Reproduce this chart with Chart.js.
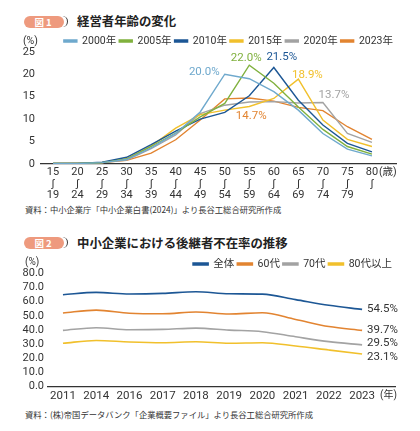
<!DOCTYPE html>
<html lang="ja">
<head>
<meta charset="utf-8">
<script src="https://cdn.jsdelivr.net/npm/chart.js@4.4.1/dist/chart.umd.min.js"></script>
<style>
  html, body { margin: 0; padding: 0; background: #fff; }
  body { width: 420px; height: 431px; position: relative; overflow: hidden;
         font-family: Roboto, 'Noto Sans CJK JP', sans-serif; color: #222; }
  .badge { position: absolute; left: 24px; width: 40px; height: 12px; border-radius: 7px;
           background: #ee9a7e; color: #fff; font: bold 9.5px 'Noto Sans CJK JP', sans-serif;
           line-height: 12px; text-align: center; letter-spacing: 2px; }
  .badge::after { content: ''; position: absolute; right: -4px; top: 0; width: 8px; height: 11px;
           border-right: 1.5px solid #333; border-radius: 0 7px 7px 0; }
  .title { position: absolute; left: 77px; font: bold 12.4px 'Noto Sans CJK JP', sans-serif;
           line-height: 16px; color: #222; white-space: nowrap; }
  .wrap { position: absolute; left: 0; width: 420px; }
  .src { position: absolute; left: 25px; font: 8.3px 'Noto Sans CJK JP', sans-serif;
         line-height: 10px; color: #333; white-space: nowrap; }
</style>
</head>
<body>
<div class="badge" style="top:16px">図1</div>
<div class="title" style="top:13px">経営者年齢の変化</div>
<div class="wrap" style="top:31px;height:170px"><canvas id="ageChart"></canvas></div>
<div class="src" style="top:204px">資料：中小企業庁「中小企業白書(2024)」より長谷工総合研究所作成</div>

<div class="badge" style="top:237px">図2</div>
<div class="title" style="top:235px">中小企業における後継者不在率の推移</div>
<div class="wrap" style="top:254px;height:150px"><canvas id="successorChart"></canvas></div>
<div class="src" style="top:409px">資料：(株)帝国データバンク「企業概要ファイル」より長谷工総合研究所作成</div>

<script>
const FONT = "Roboto, 'Noto Sans CJK JP', sans-serif";
Chart.defaults.font.family = FONT;
Chart.defaults.color = '#333';

// 図1 経営者年齢の分布 (%)
const ageFrom = ['15', '20', '25', '30', '35', '40', '45', '50', '55', '60', '65', '70', '75', '80'];
const ageTo   = ['19', '24', '29', '34', '39', '44', '49', '54', '59', '64', '69', '74', '79', ''];
const surveyYears = ['2000年', '2005年', '2010年', '2015年', '2020年', '2023年'];
const age2000 = [0.1, 0.1, 0.3, 1.0, 3.6, 6.8, 11.6, 20.0, 19.0, 16.1, 12.0, 6.8, 3.3, 1.8];
const age2005 = [0.1, 0.1, 0.3, 1.1, 3.9, 6.9, 10.5, 13.5, 22.0, 18.0, 12.7, 7.7, 3.9, 2.2];
const age2010 = [0.1, 0.1, 0.4, 1.5, 4.3, 7.3, 10.0, 11.5, 15.2, 21.5, 14.2, 8.7, 4.6, 2.7];
const age2015 = [0.1, 0.1, 0.3, 1.2, 4.0, 8.0, 11.0, 12.0, 12.8, 14.6, 18.9, 9.8, 5.5, 3.9];
const age2020 = [0.1, 0.1, 0.3, 0.9, 3.4, 6.5, 11.2, 13.1, 13.8, 13.9, 13.6, 13.7, 6.8, 4.8];
const age2023 = [0.1, 0.2, 0.3, 0.8, 2.4, 5.4, 9.8, 14.5, 14.7, 14.0, 12.6, 11.9, 8.3, 5.5];
const ageTicks = [0, 5, 10, 15, 20, 25];

// 図2 後継者不在率 (%)
const fiscalYears = ['2011', '2014', '2016', '2017', '2018', '2019', '2020', '2021', '2022', '2023'];
const groups = ['全体', '60代', '70代', '80代以上'];
const rateAll = [64.8, 66.5, 65.4, 65.8, 67.0, 65.5, 65.3, 61.4, 57.4, 54.5];
const rate60s = [52.0, 54.0, 51.8, 51.4, 52.7, 51.3, 52.1, 47.4, 42.4, 39.7];
const rate70s = [39.7, 41.6, 40.2, 40.4, 41.3, 39.9, 38.8, 35.2, 31.8, 29.5];
const rate80s = [30.6, 32.6, 31.5, 31.0, 31.7, 30.6, 31.0, 28.7, 25.9, 23.1];
const rateTicks = [0, 10, 20, 30, 40, 50, 60, 70, 80];

const toPoints = arr => arr.map((v, i) => ({x: i, y: v}));

// extra texts: unit labels and value callouts
const notesPlugin = {
  id: 'notes',
  afterDraw(chart, args, opts) {
    const {ctx} = chart;
    const x = chart.scales.x, y = chart.scales.y;
    ctx.save();
    ctx.textBaseline = 'middle';
    ctx.font = opts.font;
    (opts.points || []).forEach(p => {
      const ds = chart.data.datasets[p.ds];
      const v = ds.data[p.i].y;
      ctx.fillStyle = p.color || ds.borderColor;
      ctx.textAlign = p.align || 'center';
      ctx.fillText(v.toFixed(1) + '%', x.getPixelForValue(p.i) + p.dx, y.getPixelForValue(v) + p.dy);
    });
    ctx.fillStyle = '#333';
    ctx.textAlign = 'left';
    ctx.font = opts.unitFont;
    ctx.fillText('(%)', opts.pctX, chart.legend.top + opts.pctDy);
    const last = x.ticks[x.ticks.length - 1].value;
    ctx.fillText(opts.xUnit, x.getPixelForValue(last) + opts.xUnitDx, x.top + opts.xUnitDy);
    ctx.restore();
  }
};

new Chart(document.getElementById('ageChart'), {
  type: 'line',
  data: {
    datasets: [
      {label: surveyYears[0], data: toPoints(age2000), borderColor: '#6fa9cd'},
      {label: surveyYears[1], data: toPoints(age2005), borderColor: '#80b13e'},
      {label: surveyYears[2], data: toPoints(age2010), borderColor: '#1d5795'},
      {label: surveyYears[3], data: toPoints(age2015), borderColor: '#f1c02c'},
      {label: surveyYears[4], data: toPoints(age2020), borderColor: '#a3a3a3'},
      {label: surveyYears[5], data: toPoints(age2023), borderColor: '#e28431'}
    ].map(d => Object.assign(d, {backgroundColor: d.borderColor, borderWidth: 1.4, pointRadius: 0, tension: 0}))
  },
  options: {
    responsive: true,
    maintainAspectRatio: false,
    animation: false,
    events: [],
    layout: {padding: {top: 1.75, right: 24, left: 0, bottom: 0}},
    plugins: {
      tooltip: {enabled: false},
      legend: {
        align: 'end',
        maxHeight: 19,
        labels: {boxWidth: 13, boxHeight: 2, padding: 3, color: '#333', font: {size: 10.5}}
      },
      notes: {
        font: '11.5px ' + FONT,
        unitFont: '10.5px ' + FONT,
        pctX: 23, pctDy: 8.25,
        xUnit: '(歳)', xUnitDx: 7, xUnitDy: 8,
        points: [
          {ds: 0, i: 7, dx: -5, dy: -2, align: 'right'},
          {ds: 1, i: 8, dx: -3, dy: -7},
          {ds: 2, i: 9, dx: 8, dy: -10},
          {ds: 3, i: 10, dx: 9, dy: -4},
          {ds: 4, i: 11, dx: 11, dy: -7.5},
          {ds: 5, i: 8, dx: 2, dy: 18}
        ]
      }
    },
    scales: {
      x: {
        type: 'linear', min: -0.49, max: 13.98,
        grid: {display: false, drawTicks: false},
        border: {display: true, color: '#333', width: 1.2},
        afterBuildTicks: s => { s.ticks = ageFrom.map((_, i) => ({value: i})); },
        afterFit: s => { s.height = 37; },
        ticks: {
          autoSkip: false, maxRotation: 0, padding: 2.5, color: '#333',
          font: {size: 11, lineHeight: 1.05},
          callback: v => [ageFrom[v], 'ʃ', ageTo[v]]
        }
      },
      y: {
        min: 0, max: 25,
        grid: {display: false, drawTicks: false},
        border: {display: false},
        afterBuildTicks: s => { s.ticks = ageTicks.map(v => ({value: v})); },
        afterFit: s => { s.width = 41; },
        ticks: {autoSkip: false, padding: 6, color: '#333', font: {size: 11}}
      }
    }
  },
  plugins: [notesPlugin]
});

new Chart(document.getElementById('successorChart'), {
  type: 'line',
  data: {
    datasets: [
      {label: groups[0], data: toPoints(rateAll), borderColor: '#1d5795'},
      {label: groups[1], data: toPoints(rate60s), borderColor: '#e28431'},
      {label: groups[2], data: toPoints(rate70s), borderColor: '#a3a3a3'},
      {label: groups[3], data: toPoints(rate80s), borderColor: '#f1c02c'}
    ].map(d => Object.assign(d, {backgroundColor: d.borderColor, borderWidth: 1.6, pointRadius: 0, cubicInterpolationMode: 'monotone'}))
  },
  options: {
    responsive: true,
    maintainAspectRatio: false,
    animation: false,
    events: [],
    layout: {padding: {top: 1.75, right: 25, left: 0, bottom: 0}},
    plugins: {
      tooltip: {enabled: false},
      legend: {
        align: 'end',
        maxHeight: 17.5,
        labels: {boxWidth: 15, boxHeight: 2, padding: 3, color: '#333', font: {size: 10.5}}
      },
      notes: {
        font: '11.5px ' + FONT,
        unitFont: '10px ' + FONT,
        pctX: 25, pctDy: 7,
        xUnit: '(年)', xUnitDx: 18, xUnitDy: 9,
        points: [
          {ds: 0, i: 9, dx: 5, dy: 0, align: 'left', color: '#333'},
          {ds: 1, i: 9, dx: 5, dy: 0, align: 'left', color: '#333'},
          {ds: 2, i: 9, dx: 5, dy: -2, align: 'left', color: '#333'},
          {ds: 3, i: 9, dx: 5, dy: 3, align: 'left', color: '#333'}
        ]
      }
    },
    scales: {
      x: {
        type: 'linear', min: -0.45, max: 9.99,
        grid: {display: false, drawTicks: false},
        border: {display: true, color: '#333', width: 1.2},
        afterBuildTicks: s => { s.ticks = fiscalYears.map((_, i) => ({value: i})); },
        afterFit: s => { s.height = 17.3; },
        ticks: {autoSkip: false, maxRotation: 0, padding: 2.5, color: '#333', font: {size: 11.5},
                callback: v => fiscalYears[v]}
      },
      y: {
        min: 0, max: 80,
        grid: {display: false, drawTicks: false},
        border: {display: false},
        afterBuildTicks: s => { s.ticks = rateTicks.map(v => ({value: v})); },
        afterFit: s => { s.width = 48; },
        ticks: {autoSkip: false, padding: 4, color: '#333', font: {size: 11}, callback: v => v.toFixed(1)}
      }
    }
  },
  plugins: [notesPlugin]
});
</script>
</body>
</html>
